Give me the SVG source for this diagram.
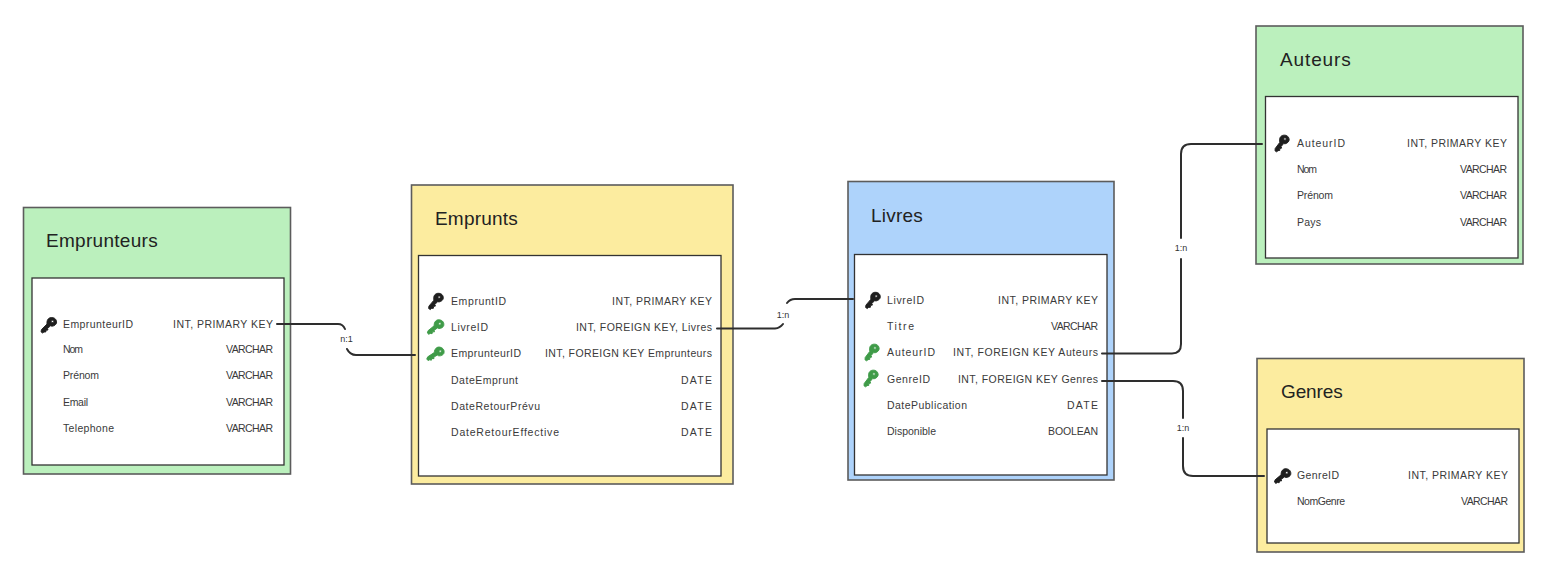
<svg xmlns="http://www.w3.org/2000/svg" width="1543" height="580" viewBox="0 0 1543 580">
<style>
text{font-family:"Liberation Sans","Open Sans",sans-serif}
.title{font-size:19px;fill:#222;letter-spacing:.3px}
.f{font-size:10.5px;fill:#3a3a3a}
.lb{font-size:9px;fill:#333;text-anchor:middle}
.outer{stroke:#5c5c5c;stroke-width:1.6}
.inner{fill:#fff;stroke:#333;stroke-width:1.3}
.green{fill:#bbf0bd}.yellow{fill:#fcec9f}.blue{fill:#aed3fb}
.c{fill:none;stroke:#2e2e2e;stroke-width:2;stroke-linecap:round}
.pk{fill:#1e1e1e;stroke:#1e1e1e;stroke-width:.9}.fk{fill:#3f9b48;stroke:#3f9b48;stroke-width:.9}
</style>
<defs>
<path id="key" fill-rule="evenodd" d="M2.500-7.500C6-7.500 8-5 7.500-2 7-.5 5.500 1 3 1.200L1.500 .8-1.500 3.500-1 5-3 5.200-3.200 7-5 7-6.500 8-8 6.800-7.500 4.500-2-1C-2.500-5-.5-7.500 2.500-7.500ZM3.500-4.800A1.200 1.200 0 1 0 3.501-4.800Z"/>
</defs>
<g id="emprunteurs">
<rect class="outer green" x="23.500" y="207.500" width="267" height="266.500"/>
<rect class="inner" x="32" y="278" width="252" height="187"/>
<text class="title" x="46" y="247" textLength="112">Emprunteurs</text>
<use href="#key" class="pk" transform="translate(49,325)"/>
<text class="f" x="63" y="328" textLength="70">EmprunteurID</text><text class="f" x="173" y="328" textLength="100">INT, PRIMARY KEY</text>
<text class="f" x="63" y="353" textLength="20">Nom</text><text class="f" x="226" y="353" textLength="47">VARCHAR</text>
<text class="f" x="63" y="379" textLength="36">Prénom</text><text class="f" x="226" y="379" textLength="47">VARCHAR</text>
<text class="f" x="63" y="406" textLength="25">Email</text><text class="f" x="226" y="406" textLength="47">VARCHAR</text>
<text class="f" x="63" y="432" textLength="51">Telephone</text><text class="f" x="226" y="432" textLength="47">VARCHAR</text>
</g>
<g id="emprunts">
<rect class="outer yellow" x="411.500" y="185" width="321.500" height="299"/>
<rect class="inner" x="418.500" y="255.500" width="302.500" height="220.500"/>
<text class="title" x="435" y="225" textLength="83">Emprunts</text>
<use href="#key" class="pk" transform="translate(436,301) rotate(-5)"/>
<use href="#key" class="fk" transform="translate(436,327) rotate(6)"/>
<use href="#key" class="fk" transform="translate(436,354) rotate(12)"/>
<text class="f" x="451" y="305" textLength="55">EmpruntID</text><text class="f" x="612" y="305" textLength="100">INT, PRIMARY KEY</text>
<text class="f" x="451" y="331" textLength="37">LivreID</text><text class="f" x="576" y="331" textLength="136">INT, FOREIGN KEY, Livres</text>
<text class="f" x="451" y="357" textLength="70">EmprunteurID</text><text class="f" x="545" y="357" textLength="167">INT, FOREIGN KEY Emprunteurs</text>
<text class="f" x="451" y="384" textLength="67">DateEmprunt</text><text class="f" x="681" y="384" textLength="31">DATE</text>
<text class="f" x="451" y="410" textLength="89">DateRetourPrévu</text><text class="f" x="681" y="410" textLength="31">DATE</text>
<text class="f" x="451" y="436" textLength="108">DateRetourEffective</text><text class="f" x="681" y="436" textLength="31">DATE</text>
</g>
<g id="livres">
<rect class="outer blue" x="848" y="181.500" width="266" height="298.500"/>
<rect class="inner" x="854.500" y="254.500" width="252.500" height="220.500"/>
<text class="title" x="871" y="222" textLength="52">Livres</text>
<use href="#key" class="pk" transform="translate(873,300) rotate(-5)"/>
<use href="#key" class="fk" transform="translate(872,352) rotate(-8)"/>
<use href="#key" class="fk" transform="translate(871,378) rotate(-8)"/>
<text class="f" x="887" y="304" textLength="37">LivreID</text><text class="f" x="998" y="304" textLength="100">INT, PRIMARY KEY</text>
<text class="f" x="887" y="330" textLength="27">Titre</text><text class="f" x="1051" y="330" textLength="47">VARCHAR</text>
<text class="f" x="887" y="356" textLength="48">AuteurID</text><text class="f" x="953" y="356" textLength="145">INT, FOREIGN KEY Auteurs</text>
<text class="f" x="887" y="383" textLength="43">GenreID</text><text class="f" x="958" y="383" textLength="140">INT, FOREIGN KEY Genres</text>
<text class="f" x="887" y="409" textLength="80">DatePublication</text><text class="f" x="1067" y="409" textLength="31">DATE</text>
<text class="f" x="887" y="435" textLength="49">Disponible</text><text class="f" x="1048" y="435" textLength="50">BOOLEAN</text>
</g>
<g id="auteurs">
<rect class="outer green" x="1256" y="26" width="267" height="238"/>
<rect class="inner" x="1265.500" y="96.500" width="252.500" height="161.500"/>
<text class="title" x="1280" y="66" textLength="71">Auteurs</text>
<use href="#key" class="pk" transform="translate(1282,143) rotate(-8)"/>
<text class="f" x="1297" y="147" textLength="48">AuteurID</text><text class="f" x="1407" y="147" textLength="100">INT, PRIMARY KEY</text>
<text class="f" x="1297" y="173" textLength="20">Nom</text><text class="f" x="1460" y="173" textLength="47">VARCHAR</text>
<text class="f" x="1297" y="199" textLength="36">Prénom</text><text class="f" x="1460" y="199" textLength="47">VARCHAR</text>
<text class="f" x="1297" y="226" textLength="24">Pays</text><text class="f" x="1460" y="226" textLength="47">VARCHAR</text>
</g>
<g id="genres">
<rect class="outer yellow" x="1257" y="358.500" width="267" height="193.500"/>
<rect class="inner" x="1267" y="429" width="252" height="114"/>
<text class="title" x="1281" y="398" textLength="62">Genres</text>
<use href="#key" class="pk" transform="translate(1283,476) rotate(5)"/>
<text class="f" x="1297" y="479" textLength="42">GenreID</text><text class="f" x="1408" y="479" textLength="100">INT, PRIMARY KEY</text>
<text class="f" x="1297" y="505" textLength="48">NomGenre</text><text class="f" x="1461" y="505" textLength="47">VARCHAR</text>
</g>
<g id="connectors">
<path class="c" d="M277 324H338Q343 324 345 329"/>
<path class="c" d="M347 349Q350 355 356 355H415"/>
<path class="c" d="M717 328.500H775Q780 328 783 324"/>
<path class="c" d="M787 303Q790 299 795 299H853"/>
<path class="c" d="M1102 353.500H1172Q1181 353.500 1181 344V259M1181 238V154Q1181 144 1191 144H1262"/>
<path class="c" d="M1102 381H1173Q1183 381 1183 391V418M1183 438V466Q1183 476 1193 476H1264"/>
<text class="lb" x="346.500" y="342">n:1</text>
<text class="lb" x="783" y="318">1:n</text>
<text class="lb" x="1181" y="251">1:n</text>
<text class="lb" x="1183" y="431">1:n</text>
</g>
</svg>
